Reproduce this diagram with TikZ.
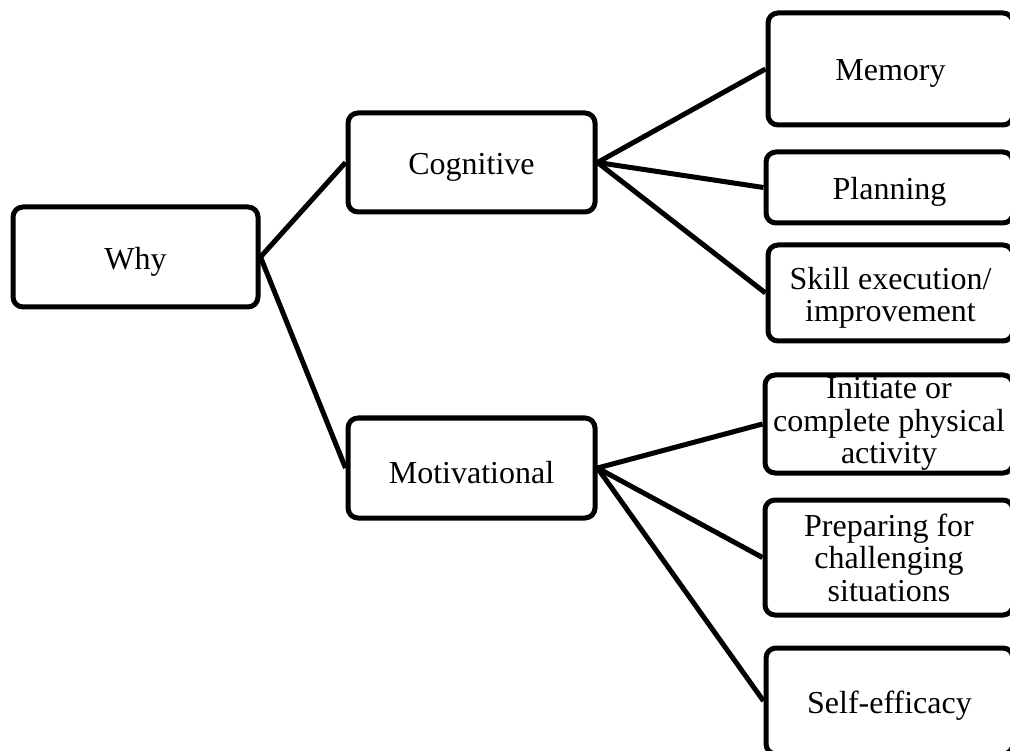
\documentclass[tikz,border=0pt]{standalone}
\usepackage{fontspec}
\setmainfont{Liberation Serif}
\begin{document}
\begin{tikzpicture}[x=1pt,y=-1pt,
  box/.style={draw=black, line width=5pt, rounded corners=10pt, rectangle,
    inner sep=0pt, anchor=center},
  lbl/.style={inner sep=0pt, align=center, anchor=center,
    font=\fontsize{32}{32.5}\selectfont},
  link/.style={draw=black, line width=5pt}]
\useasboundingbox (0,0) rectangle (1010,751);
% root and the two branches
\node[box, minimum width=245pt, minimum height=100pt] (why) at (135.5,257) {};
\node[box, minimum width=247pt, minimum height=99pt] (cog) at (471.5,162.5) {};
\node[box, minimum width=247pt, minimum height=100pt] (mot) at (471.5,468) {};
% cognitive leaves (right edges run past the page edge)
\node[box, minimum width=245pt, minimum height=112pt] (mem) at (890.5,69) {};
\node[box, minimum width=247pt, minimum height=71pt] (plan) at (889.5,187.5) {};
\node[box, minimum width=245pt, minimum height=96pt] (skill) at (890.5,293) {};
% motivational leaves
\node[box, minimum width=248pt, minimum height=98pt] (ini) at (889,424) {};
\node[box, minimum width=248pt, minimum height=115pt] (prep) at (889,557.5) {};
\node[box, minimum width=247pt, minimum height=106pt] (self) at (889.5,701) {};
% box texts, set a little below centre
\node[lbl] (whyT) at ([yshift=-4.5pt]why.center) {Why};
\node[lbl] (cogT) at ([yshift=-4.5pt]cog.center) {Cognitive};
\node[lbl] (motT) at ([yshift=-4.5pt]mot.center) {Motivational};
\node[lbl] (memT) at ([yshift=-4.5pt]mem.center) {Memory};
\node[lbl] (planT) at ([yshift=-4.5pt]plan.center) {Planning};
\node[lbl] (skillT) at ([yshift=-5pt]skill.center) {Skill execution/\\improvement};
\node[lbl] (iniT) at (ini.center) {Initiate or\\complete physical\\activity};
\node[lbl] (prepT) at (prep.center) {Preparing for\\challenging\\situations};
\node[lbl] (selfT) at ([yshift=-4.5pt]self.center) {Self-efficacy};
% connectors
\draw[link] (why.east) -- (cog.west);
\draw[link] (why.east) -- (mot.west);
\draw[link] (cog.east) -- (mem.west);
\draw[link] (cog.east) -- (plan.west);
\draw[link] (cog.east) -- (skill.west);
\draw[link] (mot.east) -- (ini.west);
\draw[link] (mot.east) -- (prep.west);
\draw[link] (mot.east) -- (self.west);
\end{tikzpicture}
\end{document}
